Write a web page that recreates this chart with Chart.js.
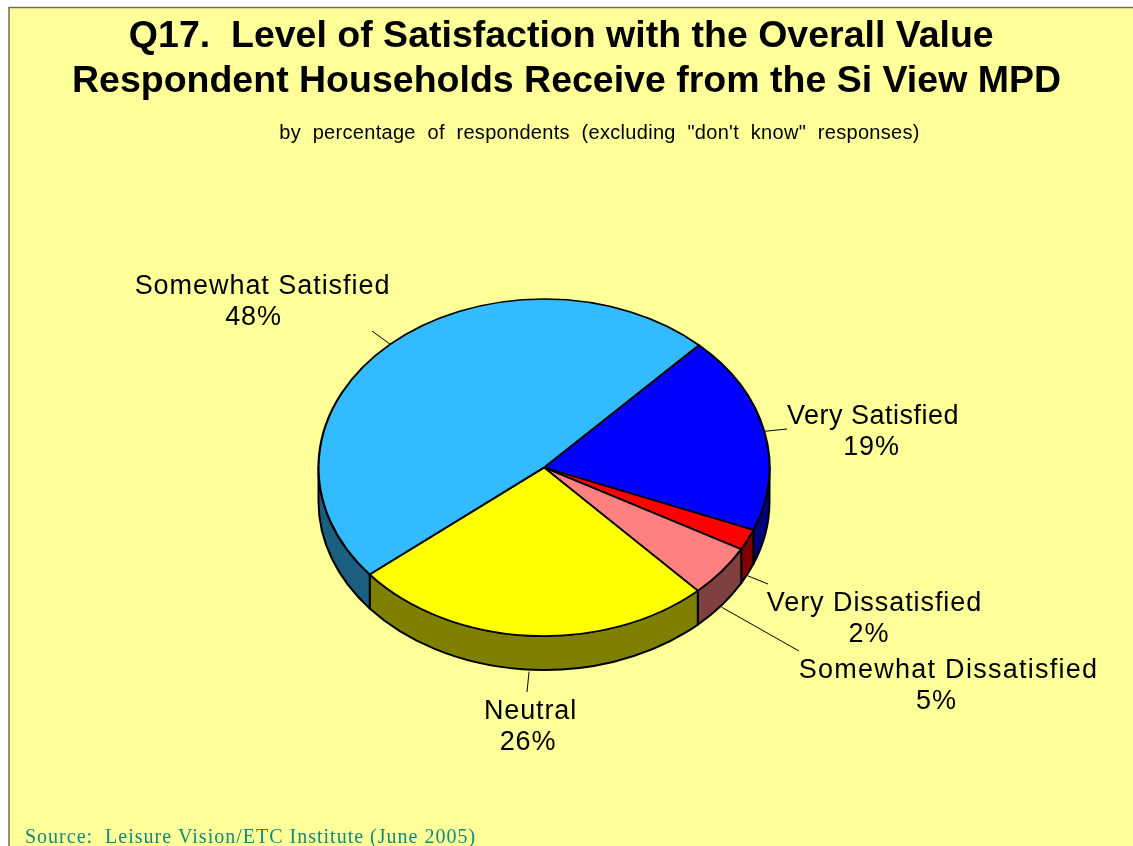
<!DOCTYPE html>
<html>
<head>
<meta charset="utf-8">
<script src="https://cdn.jsdelivr.net/npm/chart.js@4"></script>
<style>
html,body{margin:0;padding:0;background:#fff;overflow:hidden}
canvas{display:block}
</style>
</head>
<body>
<canvas id="c" width="1133" height="846"></canvas>
<script>
const categories = ["Very Satisfied","Very Dissatisfied","Somewhat Dissatisfied","Neutral","Somewhat Satisfied"];
const percentages = [19,2,5,26,48];
const titleLines = ["Q17.  Level of Satisfaction with the Overall Value ","Respondent Households Receive from the Si View MPD"];
const subtitleText = "by  percentage  of  respondents  (excluding  \"don't  know\"  responses)";
const sourceText = "Source:  Leisure Vision/ETC Institute (June 2005)";

const topColors = ["#0000FF","#FF0000","#FF8080","#FFFF00","#33BBFF"];
const wallColors = ["#000080","#800000","#804040","#808000","#1A5E80"];

// Layout (pixels): pie ellipse on the page and label placement
const PIE = {cx:544, cy:467.5, rx:225.5, ry:168.5, depth:34};
const labelLayout = [
  {x:873, pctX:871.5, y:424, sp:0.5, lead:[787,429]},
  {x:874.5, pctX:869, y:611, sp:0.93, lead:[768,584]},
  {x:948.5, pctX:936.5, y:678, sp:1.26, lead:[799,651]},
  {x:530.5, pctX:528, y:719, sp:0.86, lead:[527,692]},
  {x:262.5, pctX:253.5, y:294, sp:0.95, lead:[372,331]}
];

const FRONT_PAD = 2;
const pie3d = {
  id:'pie3d',
  beforeDraw(chart){
    const c = chart.ctx;
    c.save();
    c.fillStyle='#ffffff'; c.fillRect(0,0,chart.width,chart.height);
    c.fillStyle='#FFFF99'; c.fillRect(9,8,chart.width-9,chart.height-8);
    c.strokeStyle='#6E6E5C'; c.lineWidth=1.5;
    c.beginPath(); c.moveTo(9,chart.height); c.lineTo(9,7.5); c.lineTo(chart.width,7.5); c.stroke();
    c.restore();
  },
  beforeDatasetsDraw(chart){
    const c = chart.ctx, arcs = chart.getDatasetMeta(0).data;
    // side wall, front half only
    c.save();
    c.lineWidth=2; c.strokeStyle='#000'; c.lineJoin='round';
    const TAU=Math.PI*2;
    arcs.forEach((a,i)=>{
      for(let k=-1;k<=2;k++){
        const s=Math.max(a.startAngle,k*TAU), e=Math.min(a.endAngle,k*TAU+Math.PI);
        if(e<=s) continue;
        c.beginPath();
        c.ellipse(PIE.cx,PIE.cy,PIE.rx,PIE.ry,0,s,e);
        c.ellipse(PIE.cx,PIE.cy+PIE.depth,PIE.rx,PIE.ry,0,e,s,true);
        c.closePath();
        c.fillStyle=wallColors[i]; c.fill(); c.stroke();
      }
    });
    c.restore();
    // squash the library's round pie into the ellipse
    const a0=arcs[0];
    c.save();
    c.translate(PIE.cx,PIE.cy);
    c.scale(1,PIE.ry/PIE.rx);
    c.translate(-a0.x,-a0.y);
  },
  afterDatasetsDraw(chart){
    const c = chart.ctx, arcs = chart.getDatasetMeta(0).data;
    c.restore();
    c.save();
    // leader lines
    c.strokeStyle='#000'; c.lineWidth=1;
    arcs.forEach((a,i)=>{
      const m=(a.startAngle+a.endAngle)/2;
      const sy=Math.sin(m);
      const x=PIE.cx+(PIE.rx)*Math.cos(m);
      const y=PIE.cy+PIE.ry*sy+(sy>0.3?PIE.depth+FRONT_PAD:0);
      c.beginPath(); c.moveTo(x,y); c.lineTo(labelLayout[i].lead[0],labelLayout[i].lead[1]); c.stroke();
    });
    // category labels
    c.fillStyle='#000'; c.textAlign='center'; c.textBaseline='alphabetic';
    c.font='27px "Liberation Sans", Arial, sans-serif';
    categories.forEach((name,i)=>{
      const L=labelLayout[i];
      c.letterSpacing=L.sp+'px';
      c.fillText(name,L.x,L.y);
      c.letterSpacing='0.9px';
      c.fillText(percentages[i]+'%',L.pctX,L.y+31);
    });
    // subtitle
    c.letterSpacing='0.3px';
    c.font='20px "Liberation Sans", Arial, sans-serif';
    c.fillText(subtitleText,599.5,139);
    // source
    c.textAlign='left';
    c.fillStyle='#0F8A80';
    c.font='20px "Liberation Serif", "Times New Roman", serif';
    c.letterSpacing='1px';
    c.fillText(sourceText,25,843);
    c.restore();
  }
};

new Chart(document.getElementById('c'),{
  type:'pie',
  data:{labels:categories,datasets:[{
    data:percentages,
    backgroundColor:topColors,
    borderColor:'#000',
    borderWidth:2.2,
    hoverOffset:0
  }]},
  options:{
    responsive:false,
    animation:false,
    rotation:43.4,
    radius:PIE.rx,
    clip:false,
    layout:{padding:0},
    events:[],
    plugins:{
      legend:{display:false},
      tooltip:{enabled:false},
      title:{
        display:true,
        text:titleLines,
        color:'#000',
        font:{family:'"Liberation Sans", Arial, sans-serif',size:37.5,weight:'bold',lineHeight:1.2},
        padding:{top:14,bottom:10}
      }
    }
  },
  plugins:[pie3d]
});
</script>
</body>
</html>
